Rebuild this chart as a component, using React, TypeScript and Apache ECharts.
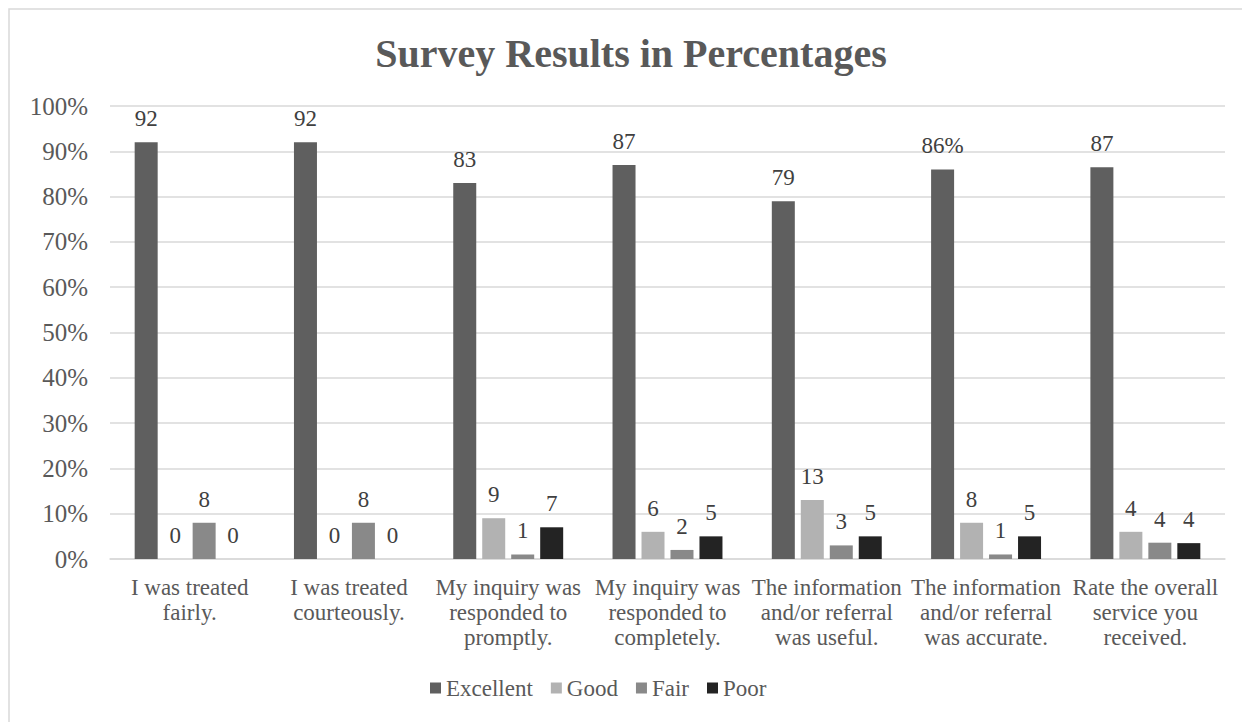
import React, { useEffect, useRef } from "react";
import * as echarts from "echarts";

const categories = [
  "I was treated\nfairly.",
  "I was treated\ncourteously.",
  "My inquiry was\nresponded to\npromptly.",
  "My inquiry was\nresponded to\ncompletely.",
  "The information\nand/or referral\nwas useful.",
  "The information\nand/or referral\nwas accurate.",
  "Rate the overall\nservice you\nreceived.",
];

const seriesNames = ["Excellent", "Good", "Fair", "Poor"];

const excellentValues = [92, 92, 83, 87, 79, 86, 86.5];
const goodValues = [0, 0, 9, 6, 13, 8, 6];
const fairValues = [8, 8, 1, 2, 3, 1, 3.6];
const poorValues = [0, 0, 7, 5, 5, 5, 3.5];

const excellentLabels = ["92", "92", "83", "87", "79", "86%", "87"];
const goodLabels = ["0", "0", "9", "6", "13", "8", "4"];
const fairLabels = ["8", "8", "1", "2", "3", "1", "4"];
const poorLabels = ["0", "0", "7", "5", "5", "5", "4"];

const yTicks = { min: 0, max: 100, interval: 10 };

const colors = ["#5f5f5f", "#b2b2b2", "#898989", "#232323"];

const FONT = "'Liberation Serif', 'Times New Roman', serif";

export default function App() {
  const ref = useRef<HTMLDivElement>(null);

  useEffect(() => {
    if (!ref.current) return;
    const chart = echarts.init(ref.current, null, { renderer: "svg" });
    const valuesList = [excellentValues, goodValues, fairValues, poorValues];
    const labelsList = [excellentLabels, goodLabels, fairLabels, poorLabels];

    const series = seriesNames.map((name, i) => ({
      name,
      type: "bar",
      data: valuesList[i],
      barWidth: 23,
      barGap: "26%",
      itemStyle: { color: colors[i] },
      label: {
        show: true,
        position: "top",
        distance: 12,
        color: "#404040",
        fontFamily: FONT,
        fontSize: 23,
        lineHeight: 23,
        formatter: (p: any) => labelsList[i][p.dataIndex],
      },
    }));

    chart.setOption({
      animation: false,
      backgroundColor: "#ffffff",
      color: colors,
      title: {
        text: "Survey Results in Percentages",
        left: 626,
        top: 28,
        textAlign: "center",
        textStyle: {
          fontFamily: FONT,
          fontWeight: "bold",
          fontSize: 40,
          lineHeight: 40,
          color: "#595959",
        },
      },
      graphic: [
        {
          type: "rect",
          shape: { x: 9, y: 9, width: 1260, height: 800 },
          style: { fill: "none", stroke: "#d9d9d9", lineWidth: 1.5 },
          silent: true,
          z: -1,
        },
      ],
      legend: {
        data: seriesNames,
        left: 425,
        top: 671,
        itemWidth: 11,
        itemHeight: 11,
        itemGap: 18,
        icon: "rect",
        textStyle: {
          fontFamily: FONT,
          fontSize: 23,
          lineHeight: 24,
          color: "#595959",
        },
      },
      grid: {
        left: 110,
        right: 17,
        top: 106,
        bottom: 163,
        containLabel: false,
      },
      xAxis: {
        type: "category",
        data: categories,
        axisLine: { show: true, lineStyle: { color: "#d9d9d9", width: 1.5 } },
        axisTick: { show: false },
        axisLabel: {
          interval: 0,
          margin: 16,
          fontFamily: FONT,
          fontSize: 23,
          lineHeight: 25,
          color: "#595959",
        },
      },
      yAxis: {
        type: "value",
        min: yTicks.min,
        max: yTicks.max,
        interval: yTicks.interval,
        axisLine: { show: false },
        axisTick: { show: false },
        splitLine: { lineStyle: { color: "#d9d9d9", width: 1.5 } },
        axisLabel: {
          formatter: "{value}%",
          margin: 22,
          fontFamily: FONT,
          fontSize: 25,
          color: "#595959",
        },
      },
      series,
    });

    return () => {
      chart.dispose();
    };
  }, []);

  return (
    <div
      ref={ref}
      style={{ position: "absolute", left: 0, top: 0, width: 1242, height: 722 }}
    />
  );
}
